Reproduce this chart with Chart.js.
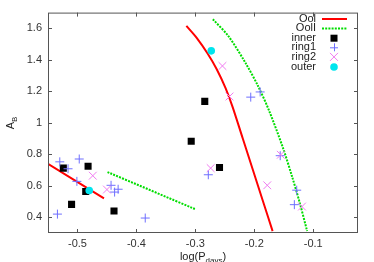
<!DOCTYPE html>
<html>
<head>
<meta charset="utf-8">
<script src="https://cdn.jsdelivr.net/npm/chart.js@4"></script>
<style>
  html, body { margin: 0; padding: 0; background: #fff; }
  #wrap { width: 374px; height: 262px; }
</style>
</head>
<body>
<div id="wrap"><canvas id="my-canvas" width="374" height="262"></canvas></div>
<script>
// tick labels
const xTicks = [-0.5, -0.4, -0.3, -0.2, -0.1];
const yTicks = [0.4, 0.6, 0.8, 1, 1.2, 1.4, 1.6];

// point groups
const innerX = [-0.524, -0.482, -0.486, -0.510, -0.438, -0.307, -0.284, -0.259];
const innerY = [0.712, 0.724, 0.564, 0.482, 0.440, 0.883, 1.136, 0.716];

const ring1X = [-0.534, -0.530, -0.516, -0.497, -0.501, -0.443, -0.437, -0.431, -0.385, -0.278, -0.206, -0.190, -0.156, -0.128, -0.132];
const ring1Y = [0.420, 0.752, 0.708, 0.770, 0.628, 0.603, 0.560, 0.578, 0.395, 0.670, 1.163, 1.196, 0.791, 0.572, 0.480];

const ring2X = [-0.474, -0.450, -0.274, -0.254, -0.242, -0.178, -0.155, -0.119];
const ring2Y = [0.664, 0.576, 0.712, 1.361, 1.167, 0.603, 0.797, 0.468];

const outerX = [-0.273, -0.480];
const outerY = [1.457, 0.570];

// relation curves
const oolShortX = [-0.55, -0.455];
const oolShortY = [0.739, 0.520];
const oolCurveX = [-0.3152, -0.2977, -0.2792, -0.2637, -0.2487, -0.2367, -0.2195, -0.2023, -0.1851, -0.1689];
const oolCurveY = [1.616, 1.540, 1.440, 1.340, 1.220, 1.100, 0.900, 0.700, 0.500, 0.312];

const oolIIShortX = [-0.449, -0.300];
const oolIIShortY = [0.687, 0.451];
const oolIICurveX = [-0.2702, -0.2436, -0.2150, -0.1938, -0.1752, -0.1519, -0.1358, -0.1228, -0.1103];
const oolIICurveY = [1.658, 1.549, 1.381, 1.235, 1.080, 0.847, 0.658, 0.491, 0.312];

function pts(xs, ys) {
  return xs.map((x, i) => ({ x: x, y: ys[i] }));
}

const FONT = 'Liberation Sans, Arial, sans-serif';
const RED = '#ff0000';
const GREEN = '#00dd00';
const BLUE = '#6f6fff';
const MAGENTA = '#f07af0';
const CYAN = '#00e5ee';

function lineSet(data, color, dashed, order) {
  return {
    data: data, showLine: true, borderColor: color, borderWidth: 2,
    borderDash: dashed ? [2, 1.2] : [], pointRadius: 0, fill: false,
    tension: 0.3, order: order
  };
}

// draws ticks inside the frame, the legend and the sub-scripted axis titles
const gnuplotLook = {
  id: 'gnuplotLook',
  afterDraw(chart) {
    const ctx = chart.ctx;
    const a = chart.chartArea;
    const xs = chart.scales.x, ys = chart.scales.y;
    ctx.save();
    ctx.strokeStyle = '#555';
    ctx.lineWidth = 1;
    ctx.beginPath();
    xTicks.forEach(v => {
      const px = Math.round(xs.getPixelForValue(v)) + 0.5;
      ctx.moveTo(px, a.bottom); ctx.lineTo(px, a.bottom - 4);
      ctx.moveTo(px, a.top); ctx.lineTo(px, a.top + 4);
    });
    yTicks.forEach(v => {
      const py = Math.round(ys.getPixelForValue(v)) + 0.5;
      ctx.moveTo(a.left, py); ctx.lineTo(a.left + 4, py);
      ctx.moveTo(a.right, py); ctx.lineTo(a.right - 4, py);
    });
    ctx.stroke();
    ctx.strokeRect(a.left + 0.5, a.top + 0.5, a.right - a.left - 1, a.bottom - a.top - 1);

    // legend
    const names = ['Ool', 'OolI', 'inner', 'ring1', 'ring2', 'outer'];
    const textRight = 316, sx0 = 322, sx1 = 347, mx = 334;
    ctx.font = '11px ' + FONT;
    ctx.textAlign = 'right';
    ctx.textBaseline = 'middle';
    names.forEach((n, i) => {
      const y = 18.5 + i * 9.6;
      ctx.fillStyle = '#222';
      ctx.fillText(n, textRight, y);
      if (i < 2) {
        ctx.strokeStyle = i === 0 ? RED : GREEN;
        ctx.lineWidth = 2;
        ctx.setLineDash(i === 0 ? [] : [2, 1.2]);
        ctx.beginPath(); ctx.moveTo(sx0, y + 0.5); ctx.lineTo(sx1, y + 0.5); ctx.stroke();
        ctx.setLineDash([]);
      } else if (i === 2) {
        ctx.fillStyle = '#000';
        ctx.fillRect(mx - 3.5, y - 3, 7, 7);
      } else if (i === 3) {
        ctx.strokeStyle = BLUE; ctx.lineWidth = 1;
        ctx.beginPath(); ctx.moveTo(mx - 4, y + 0.5); ctx.lineTo(mx + 4, y + 0.5);
        ctx.moveTo(mx + 0.5, y - 4); ctx.lineTo(mx + 0.5, y + 4); ctx.stroke();
      } else if (i === 4) {
        ctx.strokeStyle = MAGENTA; ctx.lineWidth = 1;
        ctx.beginPath(); ctx.moveTo(mx - 4, y - 4); ctx.lineTo(mx + 4, y + 4);
        ctx.moveTo(mx + 4, y - 4); ctx.lineTo(mx - 4, y + 4); ctx.stroke();
      } else {
        ctx.fillStyle = CYAN;
        ctx.beginPath(); ctx.arc(mx, y + 0.5, 3.8, 0, Math.PI * 2); ctx.fill();
      }
    });

    // x title: log(P_days)
    ctx.fillStyle = '#222';
    ctx.textAlign = 'left';
    ctx.textBaseline = 'alphabetic';
    const main = 'log(P', sub = 'days', close = ')';
    ctx.font = '11px ' + FONT;
    const w1 = ctx.measureText(main).width, w3 = ctx.measureText(close).width;
    ctx.font = '8px ' + FONT;
    const w2 = ctx.measureText(sub).width;
    let x0 = (a.left + a.right) / 2 - (w1 + w2 + w3) / 2;
    const by = 260;
    ctx.font = '11px ' + FONT; ctx.fillText(main, x0, by);
    ctx.font = '8px ' + FONT; ctx.fillText(sub, x0 + w1, by + 3);
    ctx.font = '11px ' + FONT; ctx.fillText(close, x0 + w1 + w2, by);

    // y title: A_B
    ctx.translate(14, 123);
    ctx.rotate(-Math.PI / 2);
    ctx.font = '11px ' + FONT;
    const wa = ctx.measureText('A').width;
    ctx.font = '8px ' + FONT;
    const wb = ctx.measureText('B').width;
    const s = -(wa + wb) / 2;
    ctx.font = '11px ' + FONT; ctx.fillText('A', s, 0);
    ctx.font = '8px ' + FONT; ctx.fillText('B', s + wa, 3);
    ctx.restore();
  }
};

const ctx = document.getElementById('my-canvas').getContext('2d');
const chart = new Chart(ctx, {
  type: 'scatter',
  data: {
    datasets: [
      lineSet(pts(oolShortX, oolShortY), RED, false, 10),
      lineSet(pts(oolCurveX, oolCurveY), RED, false, 10),
      lineSet(pts(oolIIShortX, oolIIShortY), GREEN, true, 9),
      lineSet(pts(oolIICurveX, oolIICurveY), GREEN, true, 9),
      { label: 'inner', data: pts(innerX, innerY), pointStyle: 'rect', pointRadius: 5,
        backgroundColor: '#000', borderColor: '#000', borderWidth: 0, order: 4 },
      { label: 'ring1', data: pts(ring1X, ring1Y), pointStyle: 'cross', pointRadius: 4.5,
        borderColor: BLUE, borderWidth: 1, order: 3 },
      { label: 'ring2', data: pts(ring2X, ring2Y), pointStyle: 'crossRot', pointRadius: 5.5,
        borderColor: MAGENTA, borderWidth: 1, order: 2 },
      { label: 'outer', data: pts(outerX, outerY), pointStyle: 'circle', pointRadius: 3.8,
        backgroundColor: CYAN, borderColor: CYAN, borderWidth: 0, order: 1 }
    ]
  },
  options: {
    responsive: false,
    animation: false,
    layout: { padding: { left: 0, right: 16, top: 11, bottom: 0 } },
    plugins: { legend: { display: false }, tooltip: { enabled: false } },
    scales: {
      x: {
        type: 'linear', min: -0.55, max: -0.024,
        afterBuildTicks: s => { s.ticks = xTicks.map(v => ({ value: v })); },
        afterFit: s => { s.height = 29; },
        grid: { display: false, drawTicks: false },
        border: { display: false },
        ticks: { color: '#333', font: { family: FONT, size: 11 }, padding: 4,
                 callback: v => String(v), maxRotation: 0 }
      },
      y: {
        type: 'linear', min: 0.3, max: 1.7,
        afterBuildTicks: s => { s.ticks = yTicks.map(v => ({ value: v })); },
        afterFit: s => { s.width = 48; },
        grid: { display: false, drawTicks: false },
        border: { display: false },
        ticks: { color: '#333', font: { family: FONT, size: 11 }, padding: 6,
                 callback: v => String(v) }
      }
    }
  },
  plugins: [gnuplotLook]
});
</script>
</body>
</html>
